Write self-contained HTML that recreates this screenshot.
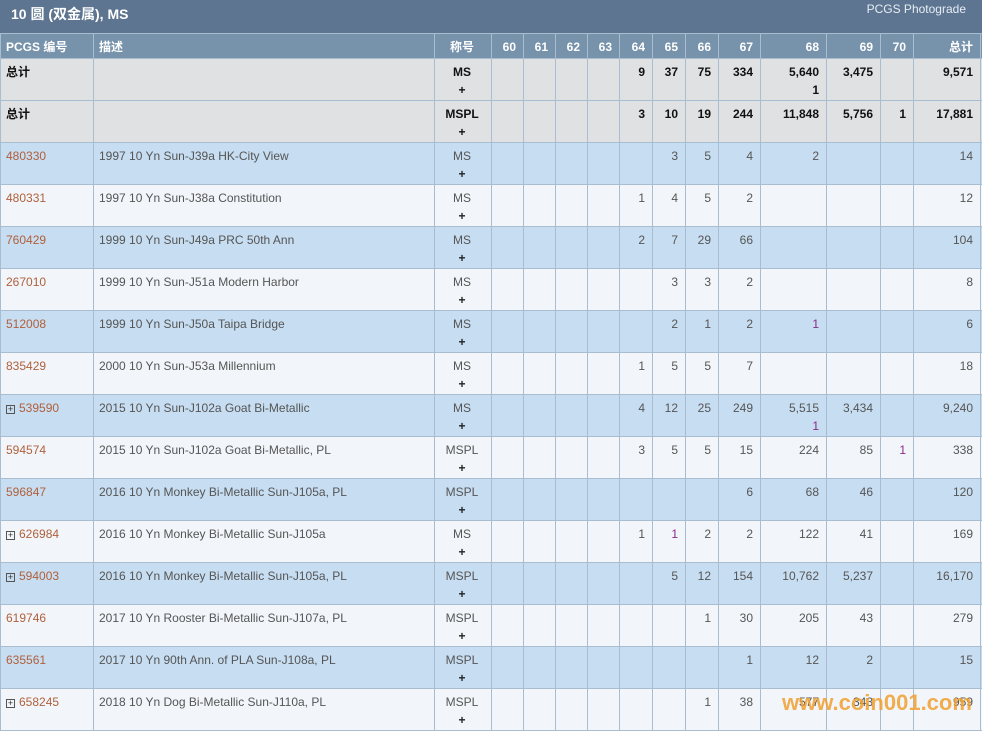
<!DOCTYPE html>
<html><head><meta charset="utf-8"><style>
*{box-sizing:border-box;margin:0;padding:0}
body{width:982px;height:733px;background:#fff;font-family:"Liberation Sans","Noto Sans CJK SC",sans-serif;font-size:12px;color:#555;overflow:hidden;position:relative}
.title{height:34px;background:#5d7590;border-bottom:1px solid #a9bdd0;position:relative;width:982px}
.title .l{position:absolute;left:11px;top:4px;color:#fff;font-weight:bold;font-size:14px}
.title .r{position:absolute;right:16px;top:2px;color:#e6edf4;font-size:12px}
.row{display:flex;width:982px;border-bottom:1px solid #a9bdd0;border-left:1px solid #a9bdd0}
.row>div{border-right:1px solid #a9bdd0;padding:4px 7px 0 5px;line-height:18px;white-space:nowrap}
.hd{height:25px;background:#7792ab;color:#fff;font-weight:bold}
.hd>div{padding-top:4px}
.g{height:42px;background:#e0e1e2;color:#111;font-weight:bold}
.b{height:42px;background:#c7ddf1}
.w{height:42px;background:#f2f6fa}
.c0{width:93px}.c1{width:341px}.c2{width:57px;text-align:center}
.c2 b{color:#222}
.n{text-align:right}
.c3,.c4,.c5{width:32px}.c6{width:32px}.c7,.c8,.c9,.c10{width:33px}.c11{width:42px}.c12{width:66px}.c13{width:54px}.c14{width:33px}.c15{width:67px}
.code{color:#b0603c}
.p{color:#8a2a8a}
.box{display:inline-block;width:9px;height:9px;border:1px solid #555;font-size:9px;line-height:7px;text-align:center;margin-right:4px;vertical-align:0;color:#333}
.wm{position:absolute;left:782px;top:690px;color:#f0a030;font-size:22px;font-weight:bold;opacity:.85}
</style></head><body>
<div class="title"><span class="l">10 圆 (双金属), MS</span><span class="r">PCGS Photograde</span></div>
<div class="row hd"><div class="c0">PCGS 编号</div><div class="c1">描述</div><div class="c2">称号</div><div class="c3 n">60</div><div class="c4 n">61</div><div class="c5 n">62</div><div class="c6 n">63</div><div class="c7 n">64</div><div class="c8 n">65</div><div class="c9 n">66</div><div class="c11 n">67</div><div class="c12 n">68</div><div class="c13 n">69</div><div class="c14 n">70</div><div class="c15 n">总计</div></div>
<div class="row g"><div class="c0">总计</div><div class="c1"></div><div class="c2">MS<br>+</div><div class="c3"></div><div class="c4"></div><div class="c5"></div><div class="c6"></div><div class="c7 n">9</div><div class="c8 n">37</div><div class="c9 n">75</div><div class="c11 n">334</div><div class="c12 n">5,640<br>1</div><div class="c13 n">3,475</div><div class="c14"></div><div class="c15 n">9,571</div></div>
<div class="row g"><div class="c0">总计</div><div class="c1"></div><div class="c2">MSPL<br>+</div><div class="c3"></div><div class="c4"></div><div class="c5"></div><div class="c6"></div><div class="c7 n">3</div><div class="c8 n">10</div><div class="c9 n">19</div><div class="c11 n">244</div><div class="c12 n">11,848</div><div class="c13 n">5,756</div><div class="c14 n">1</div><div class="c15 n">17,881</div></div>

<div class="row b"><div class="c0 code">480330</div><div class="c1">1997 10 Yn Sun-J39a HK-City View</div><div class="c2">MS<br><b>+</b></div><div class="c3"></div><div class="c4"></div><div class="c5"></div><div class="c6"></div><div class="c7 n"></div><div class="c8 n">3</div><div class="c9 n">5</div><div class="c11 n">4</div><div class="c12 n">2</div><div class="c13 n"></div><div class="c14"></div><div class="c15 n">14</div></div>
<div class="row w"><div class="c0 code">480331</div><div class="c1">1997 10 Yn Sun-J38a Constitution</div><div class="c2">MS<br><b>+</b></div><div class="c3"></div><div class="c4"></div><div class="c5"></div><div class="c6"></div><div class="c7 n">1</div><div class="c8 n">4</div><div class="c9 n">5</div><div class="c11 n">2</div><div class="c12 n"></div><div class="c13 n"></div><div class="c14"></div><div class="c15 n">12</div></div>
<div class="row b"><div class="c0 code">760429</div><div class="c1">1999 10 Yn Sun-J49a PRC 50th Ann</div><div class="c2">MS<br><b>+</b></div><div class="c3"></div><div class="c4"></div><div class="c5"></div><div class="c6"></div><div class="c7 n">2</div><div class="c8 n">7</div><div class="c9 n">29</div><div class="c11 n">66</div><div class="c12 n"></div><div class="c13 n"></div><div class="c14"></div><div class="c15 n">104</div></div>
<div class="row w"><div class="c0 code">267010</div><div class="c1">1999 10 Yn Sun-J51a Modern Harbor</div><div class="c2">MS<br><b>+</b></div><div class="c3"></div><div class="c4"></div><div class="c5"></div><div class="c6"></div><div class="c7 n"></div><div class="c8 n">3</div><div class="c9 n">3</div><div class="c11 n">2</div><div class="c12 n"></div><div class="c13 n"></div><div class="c14"></div><div class="c15 n">8</div></div>
<div class="row b"><div class="c0 code">512008</div><div class="c1">1999 10 Yn Sun-J50a Taipa Bridge</div><div class="c2">MS<br><b>+</b></div><div class="c3"></div><div class="c4"></div><div class="c5"></div><div class="c6"></div><div class="c7 n"></div><div class="c8 n">2</div><div class="c9 n">1</div><div class="c11 n">2</div><div class="c12 n"><span class="p">1</span></div><div class="c13 n"></div><div class="c14"></div><div class="c15 n">6</div></div>
<div class="row w"><div class="c0 code">835429</div><div class="c1">2000 10 Yn Sun-J53a Millennium</div><div class="c2">MS<br><b>+</b></div><div class="c3"></div><div class="c4"></div><div class="c5"></div><div class="c6"></div><div class="c7 n">1</div><div class="c8 n">5</div><div class="c9 n">5</div><div class="c11 n">7</div><div class="c12 n"></div><div class="c13 n"></div><div class="c14"></div><div class="c15 n">18</div></div>
<div class="row b"><div class="c0 code"><span class="box">+</span>539590</div><div class="c1">2015 10 Yn Sun-J102a Goat Bi-Metallic</div><div class="c2">MS<br><b>+</b></div><div class="c3"></div><div class="c4"></div><div class="c5"></div><div class="c6"></div><div class="c7 n">4</div><div class="c8 n">12</div><div class="c9 n">25</div><div class="c11 n">249</div><div class="c12 n">5,515<br><span class="p">1</span></div><div class="c13 n">3,434</div><div class="c14"></div><div class="c15 n">9,240</div></div>
<div class="row w"><div class="c0 code">594574</div><div class="c1">2015 10 Yn Sun-J102a Goat Bi-Metallic, PL</div><div class="c2">MSPL<br><b>+</b></div><div class="c3"></div><div class="c4"></div><div class="c5"></div><div class="c6"></div><div class="c7 n">3</div><div class="c8 n">5</div><div class="c9 n">5</div><div class="c11 n">15</div><div class="c12 n">224</div><div class="c13 n">85</div><div class="c14 n"><span class="p">1</span></div><div class="c15 n">338</div></div>
<div class="row b"><div class="c0 code">596847</div><div class="c1">2016 10 Yn Monkey Bi-Metallic Sun-J105a, PL</div><div class="c2">MSPL<br><b>+</b></div><div class="c3"></div><div class="c4"></div><div class="c5"></div><div class="c6"></div><div class="c7 n"></div><div class="c8 n"></div><div class="c9 n"></div><div class="c11 n">6</div><div class="c12 n">68</div><div class="c13 n">46</div><div class="c14"></div><div class="c15 n">120</div></div>
<div class="row w"><div class="c0 code"><span class="box">+</span>626984</div><div class="c1">2016 10 Yn Monkey Bi-Metallic Sun-J105a</div><div class="c2">MS<br><b>+</b></div><div class="c3"></div><div class="c4"></div><div class="c5"></div><div class="c6"></div><div class="c7 n">1</div><div class="c8 n"><span class="p">1</span></div><div class="c9 n">2</div><div class="c11 n">2</div><div class="c12 n">122</div><div class="c13 n">41</div><div class="c14"></div><div class="c15 n">169</div></div>
<div class="row b"><div class="c0 code"><span class="box">+</span>594003</div><div class="c1">2016 10 Yn Monkey Bi-Metallic Sun-J105a, PL</div><div class="c2">MSPL<br><b>+</b></div><div class="c3"></div><div class="c4"></div><div class="c5"></div><div class="c6"></div><div class="c7 n"></div><div class="c8 n">5</div><div class="c9 n">12</div><div class="c11 n">154</div><div class="c12 n">10,762</div><div class="c13 n">5,237</div><div class="c14"></div><div class="c15 n">16,170</div></div>
<div class="row w"><div class="c0 code">619746</div><div class="c1">2017 10 Yn Rooster Bi-Metallic Sun-J107a, PL</div><div class="c2">MSPL<br><b>+</b></div><div class="c3"></div><div class="c4"></div><div class="c5"></div><div class="c6"></div><div class="c7 n"></div><div class="c8 n"></div><div class="c9 n">1</div><div class="c11 n">30</div><div class="c12 n">205</div><div class="c13 n">43</div><div class="c14"></div><div class="c15 n">279</div></div>
<div class="row b"><div class="c0 code">635561</div><div class="c1">2017 10 Yn 90th Ann. of PLA Sun-J108a, PL</div><div class="c2">MSPL<br><b>+</b></div><div class="c3"></div><div class="c4"></div><div class="c5"></div><div class="c6"></div><div class="c7 n"></div><div class="c8 n"></div><div class="c9 n"></div><div class="c11 n">1</div><div class="c12 n">12</div><div class="c13 n">2</div><div class="c14"></div><div class="c15 n">15</div></div>
<div class="row w"><div class="c0 code"><span class="box">+</span>658245</div><div class="c1">2018 10 Yn Dog Bi-Metallic Sun-J110a, PL</div><div class="c2">MSPL<br><b>+</b></div><div class="c3"></div><div class="c4"></div><div class="c5"></div><div class="c6"></div><div class="c7 n"></div><div class="c8 n"></div><div class="c9 n">1</div><div class="c11 n">38</div><div class="c12 n">577</div><div class="c13 n">343</div><div class="c14"></div><div class="c15 n">959</div></div>
<div class="wm">www.coin001.com</div>
</body></html>
